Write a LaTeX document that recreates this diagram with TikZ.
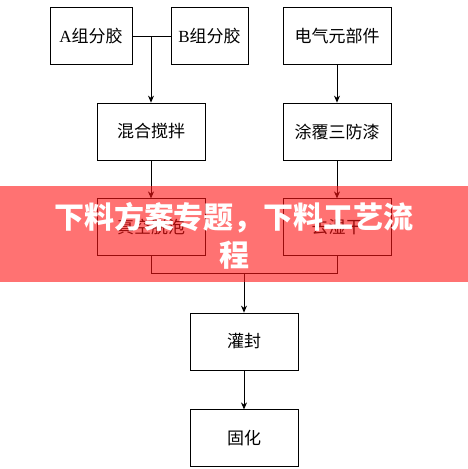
\documentclass[tikz,border=0pt]{standalone}
\usepackage{fontspec}
\setmainfont{Liberation Serif}
\newfontfamily\cjk{Noto Sans CJK SC}
\usetikzlibrary{positioning,arrows.meta}
\definecolor{bannerred}{RGB}{255,20,20}
\tikzset{
  stepbox/.style={draw, line width=0.8pt, minimum width=108pt, minimum height=57pt, inner sep=0pt, font=\fontsize{17}{20}\selectfont\cjk},
  flow/.style={line width=0.8pt, -{Stealth[length=7pt,width=6pt]}},
  link/.style={line width=0.8pt},
}
\begin{document}
\begin{tikzpicture}[x=1pt,y=-1pt]
 \useasboundingbox (0,0) rectangle (468,469);

 %Inputs
 \node (compA) [stepbox, minimum width=82pt] at (91,36) {{\rmfamily A}组分胶};
 \node (compB) [stepbox, minimum width=77pt] at (209.5,36) {{\rmfamily B}组分胶};
 \node (elec) [stepbox] at (337,36) {电气元部件};

 %Steps
 \node (mix) [stepbox] at (151,131.5) {混合搅拌};
 \node (coat) [stepbox] at (337,131.5) {涂覆三防漆};
 \node (vacuum) [stepbox, below=38pt of mix] {真空脱泡};
 \node (dry) [stepbox, below=38pt of coat] {去湿干};
 \node (pot) [stepbox] at (244,341.5) {灌封};
 \node (cure) [stepbox, below=39pt of pot] {固化};

 %Coordinates
 \coordinate (join) at (mix.north |- compA.east);
 \coordinate (merge) at (pot.north |- 0,273);

 %Connectors
 \draw[link] (compA.east) -- (compB.west);
 \draw[flow] (join) -- (mix.north);
 \draw[flow] (elec) -- (coat);
 \draw[flow] (mix) -- (vacuum);
 \draw[flow] (coat) -- (dry);
 \draw[link] (vacuum.south) -- (vacuum.south |- merge) -- (dry.south |- merge) -- (dry.south);
 \draw[flow] (merge) -- (pot.north);
 \draw[flow] (pot) -- (cure);

 %Banner
 \fill[bannerred, fill opacity=0.6] (0,186) rectangle (468,282);
 \node (title) [text=white, align=center, font=\fontsize{30}{38}\selectfont\cjk\bfseries] at (234,236) {下料方案专题，下料工艺流\\程};
\end{tikzpicture}
\end{document}
